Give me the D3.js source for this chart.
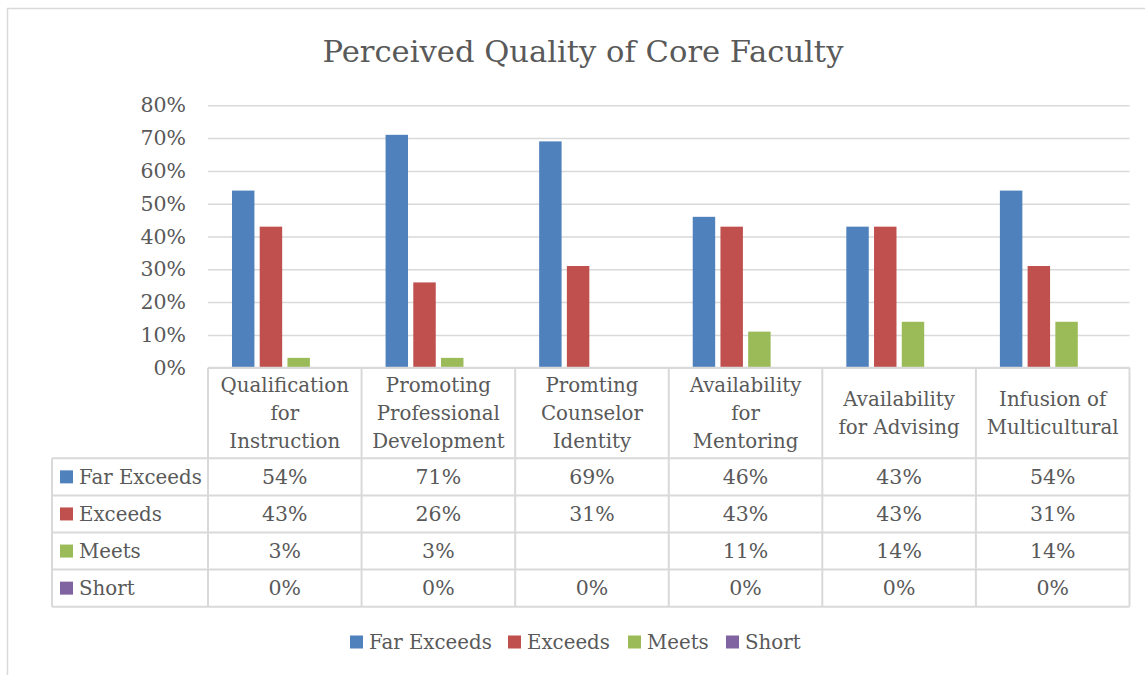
<!DOCTYPE html>
<html>
<head>
<meta charset="utf-8">
<script src="https://cdn.jsdelivr.net/npm/d3@7"></script>
<style>
  body { margin: 0; background: #fff; }
  svg text { font-family: "DejaVu Serif", serif; fill: #595959; }
</style>
</head>
<body>
<div id="chart"></div>
<script>
// data
const categories = [
    ['Qualification', 'for', 'Instruction'],
    ['Promoting', 'Professional', 'Development'],
    ['Promting', 'Counselor', 'Identity'],
    ['Availability', 'for', 'Mentoring'],
    ['Availability', 'for Advising'],
    ['Infusion of', 'Multicultural']
];
const seriesNames = ['Far Exceeds', 'Exceeds', 'Meets', 'Short'];
const farExceeds = [54, 71, 69, 46, 43, 54];
const exceeds = [43, 26, 31, 43, 43, 31];
const meets = [3, 3, null, 11, 14, 14];
const short = [0, 0, 0, 0, 0, 0];
const yTicks = [0, 10, 20, 30, 40, 50, 60, 70, 80];

const seriesValues = [farExceeds, exceeds, meets, short];
const seriesColor = {
    'Far Exceeds': '#4F81BD',
    'Exceeds': '#C0504D',
    'Meets': '#9BBB59',
    'Short': '#8064A2'
};

var width = 1145, height = 675;
var plot = { left: 208, right: 1129.5, top: 105.3, bottom: 367.7 };
var headerBottom = 458.3, rowH = 37.1, tableLeft = 52;
var gridColor = '#D9D9D9';
var fontSize = '19.8px';

var svg = d3.select('#chart').append('svg')
    .attr('width', width)
    .attr('height', height);

// chart border
svg.append('rect')
    .attr('x', 7.5).attr('y', 8.5)
    .attr('width', width + 20).attr('height', height + 20)
    .attr('fill', 'none')
    .attr('stroke', gridColor)
    .attr('stroke-width', 1.5);

// title
svg.append('text')
    .attr('x', 583)
    .attr('y', 62)
    .attr('text-anchor', 'middle')
    .style('font-size', '30.6px')
    .text('Perceived Quality of Core Faculty');

var catIdx = d3.range(categories.length);

var xScale = d3.scaleBand()
    .domain(catIdx)
    .range([plot.left, plot.right]);

var xInner = d3.scaleBand()
    .domain(seriesNames)
    .range([0, xScale.bandwidth()])
    .paddingInner(0.19)
    .paddingOuter(0.865);

var yScale = d3.scaleLinear()
    .domain([0, 80])
    .range([plot.bottom, plot.top]);

// gridlines + y labels
var yAxis = svg.append('g')
    .attr('transform', 'translate(' + plot.left + ',0)')
    .call(d3.axisLeft(yScale)
        .tickValues(yTicks)
        .tickSize(-(plot.right - plot.left))
        .tickPadding(22)
        .tickFormat(function (d) { return d + '%'; }));
yAxis.select('.domain').remove();
yAxis.selectAll('line').attr('stroke', gridColor).attr('stroke-width', 1.5);
yAxis.selectAll('text')
    .attr('fill', '#595959')
    .style('font-family', '"DejaVu Serif", serif')
    .style('font-size', '20.5px');

// bars
seriesNames.forEach(function (name, si) {
    svg.append('g')
        .selectAll('rect')
        .data(catIdx.filter(function (i) { return seriesValues[si][i] != null; }))
        .enter().append('rect')
        .attr('x', function (i) { return xScale(i) + xInner(name); })
        .attr('y', function (i) { return yScale(seriesValues[si][i]); })
        .attr('width', xInner.bandwidth())
        .attr('height', function (i) { return yScale(0) - yScale(seriesValues[si][i]); })
        .attr('fill', seriesColor[name]);
});

// data table
var table = svg.append('g');
var tableBottom = headerBottom + rowH * seriesNames.length;

function tline(x1, y1, x2, y2) {
    table.append('line')
        .attr('x1', x1).attr('y1', y1).attr('x2', x2).attr('y2', y2)
        .attr('stroke', gridColor)
        .attr('stroke-width', 2);
}

// vertical lines of category columns
catIdx.forEach(function (i) { tline(xScale(i), plot.bottom, xScale(i), tableBottom); });
tline(plot.right, plot.bottom, plot.right, tableBottom);
tline(tableLeft, headerBottom, tableLeft, tableBottom);
// horizontal lines
tline(plot.left, plot.bottom, plot.right, plot.bottom);
d3.range(seriesNames.length + 1).forEach(function (r) {
    tline(tableLeft, headerBottom + r * rowH, plot.right, headerBottom + r * rowH);
});

// header labels
var headerMid = (plot.bottom + headerBottom) / 2;
catIdx.forEach(function (i) {
    var lines = categories[i];
    var lh = 28;
    var t = table.append('text')
        .attr('text-anchor', 'middle')
        .style('font-size', fontSize);
    lines.forEach(function (l, k) {
        t.append('tspan')
            .attr('x', xScale(i) + xScale.bandwidth() / 2)
            .attr('y', headerMid + (k - (lines.length - 1) / 2) * lh + 7)
            .text(l);
    });
});

// rows
seriesNames.forEach(function (name, si) {
    var cy = headerBottom + si * rowH + rowH / 2;
    table.append('rect')
        .attr('x', 60).attr('y', cy - 6.5)
        .attr('width', 13).attr('height', 13)
        .attr('fill', seriesColor[name]);
    table.append('text')
        .attr('x', 79).attr('y', cy + 7)
        .style('font-size', fontSize)
        .text(name);
    catIdx.forEach(function (i) {
        var v = seriesValues[si][i];
        if (v == null) return;
        table.append('text')
            .attr('x', xScale(i) + xScale.bandwidth() / 2)
            .attr('y', cy + 7)
            .attr('text-anchor', 'middle')
            .style('font-size', '20.5px')
            .text(v + '%');
    });
});

// legend
var legendX = [350, 508, 628, 726];
var legend = svg.selectAll('g.legend')
    .data(seriesNames)
    .enter().append('g')
    .attr('class', 'legend')
    .attr('transform', function (d, i) { return 'translate(' + legendX[i] + ',642)'; });

legend.append('rect')
    .attr('x', 0).attr('y', -6.5)
    .attr('width', 13).attr('height', 13)
    .attr('fill', function (d) { return seriesColor[d]; });

legend.append('text')
    .attr('x', 19).attr('y', 7)
    .style('font-size', fontSize)
    .text(function (d) { return d; });
</script>
</body>
</html>
